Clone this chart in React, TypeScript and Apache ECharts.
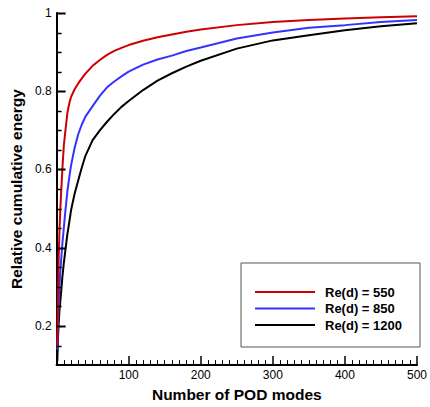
import React, { useEffect, useRef } from "react";
import * as echarts from "echarts";

const modes = [1, 2, 3, 4, 5, 6, 8, 10, 12, 15, 18, 20, 25, 30, 35, 40, 50, 60, 70, 80, 90, 100, 120, 140, 160, 180, 200, 250, 300, 350, 400, 450, 500];
const re550 = [0.15, 0.28, 0.38, 0.44, 0.49, 0.53, 0.6, 0.66, 0.695, 0.745, 0.772, 0.785, 0.805, 0.82, 0.833, 0.845, 0.865, 0.88, 0.893, 0.903, 0.911, 0.918, 0.929, 0.938, 0.945, 0.952, 0.958, 0.969, 0.977, 0.982, 0.986, 0.989, 0.992];
const re850 = [0.14, 0.21, 0.26, 0.3, 0.335, 0.36, 0.41, 0.45, 0.49, 0.545, 0.585, 0.61, 0.655, 0.69, 0.715, 0.735, 0.762, 0.788, 0.81, 0.825, 0.838, 0.85, 0.868, 0.881, 0.891, 0.903, 0.912, 0.935, 0.95, 0.962, 0.969, 0.977, 0.982];
const re1200 = [0.11, 0.17, 0.21, 0.24, 0.26, 0.28, 0.325, 0.36, 0.39, 0.435, 0.47, 0.495, 0.538, 0.572, 0.605, 0.635, 0.675, 0.7, 0.722, 0.742, 0.76, 0.775, 0.803, 0.827, 0.846, 0.863, 0.878, 0.909, 0.93, 0.943, 0.956, 0.966, 0.974];
const seriesNames = ["Re(d) = 550", "Re(d) = 850", "Re(d) = 1200"];
const seriesColors = ["#cc0000", "#3333ff", "#000000"];
const yLabelValues = [0.2, 0.4, 0.6, 0.8, 1];
const yMinorTicks = [0.15, 0.25, 0.3, 0.35, 0.45, 0.5, 0.55, 0.65, 0.7, 0.75, 0.85, 0.9, 0.95];
const xTitle = "Number of POD modes";
const yTitle = "Relative cumulative energy";

const FONT = "'Liberation Sans', Arial, Helvetica, sans-serif";

export default function App() {
  const ref = useRef<HTMLDivElement>(null);
  useEffect(() => {
    document.body.style.margin = "0";
    if (!ref.current) return;
    const chart = echarts.init(ref.current, null, { renderer: "svg" });
    const all = [re550, re850, re1200];
    const pairs = (arr: number[]) => modes.map((m, i) => [m, arr[i]]);

    // y-axis tick marks drawn through the axis scale (pointing into the plot)
    const tickSeries = (values: number[], len: number, width: number) => ({
      type: "custom",
      silent: true,
      clip: false,
      z: 6,
      data: values.map((v) => [0, v]),
      renderItem: (_params: any, api: any) => {
        const p = api.coord([0, api.value(1)]);
        const y = Math.round(p[1]) + 0.5;
        return {
          type: "line",
          shape: { x1: p[0], y1: y, x2: p[0] + len, y2: y },
          style: { stroke: "#000", lineWidth: width },
        };
      },
    });

    // legend drawn as graphic elements inside a framed box
    const legendBox = { x: 241, y: 263, w: 179, h: 84 };
    const legendItems: any[] = [];
    seriesNames.forEach((name, i) => {
      const cy = 292 + i * 16.5;
      legendItems.push({
        type: "line",
        z: 12,
        shape: { x1: 255, y1: cy, x2: 315, y2: cy },
        style: { stroke: seriesColors[i], lineWidth: 2 },
      });
      legendItems.push({
        type: "text",
        z: 12,
        x: 325,
        y: cy,
        style: {
          text: name,
          fill: "#000",
          font: `bold 13px ${FONT}`,
          verticalAlign: "middle",
          align: "left",
        },
      });
    });

    chart.setOption({
      animation: false,
      backgroundColor: "#ffffff",
      grid: { left: 53, right: 11, top: 13, bottom: 36 },
      xAxis: {
        type: "value",
        min: 0,
        max: 500,
        interval: 100,
        name: xTitle,
        nameLocation: "middle",
        nameGap: 16,
        nameTextStyle: { fontFamily: FONT, fontWeight: "bold", fontSize: 15.5, color: "#000" },
        axisLine: { show: true, onZero: false, lineStyle: { color: "#000", width: 2 } },
        axisTick: { show: true, inside: true, length: 9, lineStyle: { color: "#000", width: 1.5 } },
        minorTick: { show: true, splitNumber: 10, length: 5, lineStyle: { color: "#000", width: 1 } },
        axisLabel: {
          fontFamily: FONT,
          fontSize: 12,
          color: "#000",
          margin: 4,
          formatter: (v: number) => (v === 0 ? "" : String(v)),
        },
        splitLine: { show: false },
      },
      yAxis: {
        type: "value",
        min: 0.1,
        max: 1,
        position: "left",
        name: yTitle,
        nameLocation: "middle",
        nameGap: 32,
        nameRotate: 90,
        nameTextStyle: { fontFamily: FONT, fontWeight: "bold", fontSize: 15.5, color: "#000" },
        axisLine: { show: true, onZero: false, lineStyle: { color: "#000", width: 2 } },
        axisTick: { show: false },
        axisLabel: {
          fontFamily: FONT,
          fontSize: 12,
          color: "#000",
          margin: 5,
          customValues: yLabelValues,
          formatter: (v: number) => String(Math.round(v * 10) / 10),
        },
        splitLine: { show: false },
      },
      graphic: [
        {
          type: "rect",
          z: 10,
          x: legendBox.x,
          y: legendBox.y,
          shape: { x: 0, y: 0, width: legendBox.w, height: legendBox.h },
          style: { fill: "none", stroke: "#555", lineWidth: 1 },
        },
        ...legendItems,
      ],
      series: [
        ...all.map((arr, i) => ({
          type: "line",
          name: seriesNames[i],
          data: pairs(arr),
          showSymbol: false,
          symbol: "none",
          smooth: false,
          clip: true,
          lineStyle: { color: seriesColors[i], width: 2 },
          itemStyle: { color: seriesColors[i] },
          z: 3 - i,
        })),
        tickSeries(yLabelValues, 9, 2),
        tickSeries(yMinorTicks, 5, 1.5),
      ],
    });
    return () => chart.dispose();
  }, []);
  return <div ref={ref} style={{ width: 430, height: 407 }} />;
}
